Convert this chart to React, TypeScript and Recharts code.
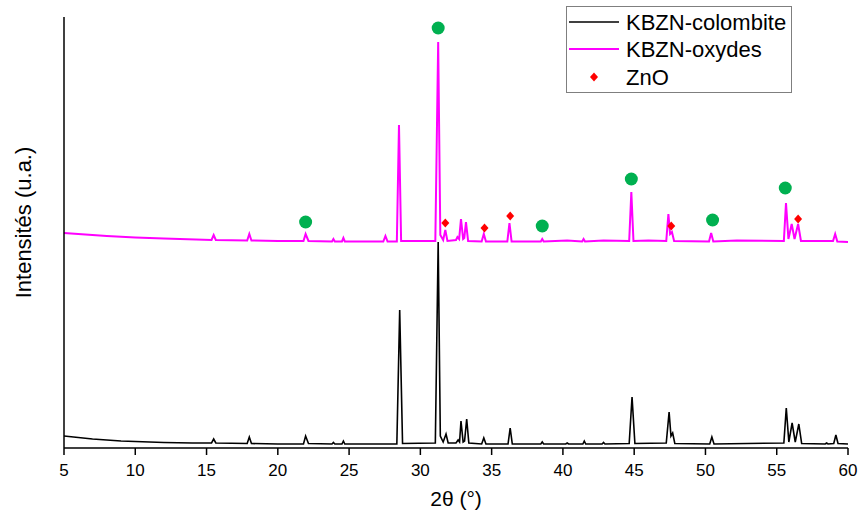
import React from 'react';
import { ComposedChart, Line, Scatter, XAxis, YAxis, Label } from 'recharts';

// [2θ, intensity (a.u.)]
const colombite: [number, number][] = [
  [5, 12], [6, 10.5], [7, 9], [8, 8], [9, 7], [10, 6.5], [12, 5.5], [14, 5],
  [15.35, 5], [15.5, 9], [15.65, 5], [17.85, 4.5], [18, 11], [18.15, 4.5], [20, 4],
  [21.8, 4], [21.95, 12], [22.15, 4.5], [23.8, 4], [23.9, 5.5], [24.0, 4],
  [24.5, 4], [24.6, 7], [24.7, 4], [28.35, 4], [28.55, 138], [28.75, 4.5],
  [31.05, 5], [31.25, 206], [31.4, 12], [31.6, 6], [31.8, 14], [31.95, 5],
  [32.5, 5], [32.65, 8], [32.75, 6], [32.85, 27], [33.0, 6], [33.1, 7], [33.25, 29], [33.4, 5],
  [34.3, 4], [34.45, 10], [34.6, 4], [36.15, 4], [36.3, 20], [36.45, 4],
  [38.45, 4], [38.55, 6], [38.65, 4], [40.2, 4], [40.3, 5], [40.4, 4],
  [41.4, 4], [41.5, 7], [41.6, 4], [42.75, 4], [42.85, 5.5], [42.95, 4],
  [44.65, 4.5], [44.85, 51], [45.05, 4.5], [47.25, 5], [47.45, 36], [47.58, 12], [47.7, 15], [47.85, 4.5],
  [50.3, 4], [50.45, 11], [50.6, 4], [55.5, 5], [55.67, 40], [55.85, 6], [56.08, 25], [56.3, 6],
  [56.55, 24], [56.75, 4.5], [58.4, 4], [58.5, 5], [58.6, 4], [59.0, 4.5], [59.15, 13], [59.3, 4.5], [60, 4],
];

const oxydes: [number, number][] = [
  [5, 215], [6, 214], [7, 213], [8, 212], [10, 210.5], [12, 209.5],
  [15.35, 208], [15.5, 213], [15.65, 208], [17.85, 207.5], [18, 214], [18.15, 207.5], [20, 207],
  [21.8, 207], [21.95, 214], [22.15, 207], [23.8, 206.5], [23.9, 209], [24.0, 206.5],
  [24.5, 206.5], [24.6, 210], [24.7, 206.5], [27.4, 206.5], [27.55, 212], [27.7, 206.5],
  [28.35, 206.5], [28.5, 323], [28.65, 207], [31.05, 207], [31.25, 406], [31.4, 213], [31.6, 208],
  [31.75, 218], [31.9, 207], [32.5, 208], [32.6, 211], [32.72, 209], [32.85, 229], [33.0, 209],
  [33.08, 210], [33.2, 226], [33.35, 207], [34.3, 206.5], [34.45, 214], [34.6, 206.5],
  [36.1, 206.5], [36.25, 225], [36.4, 206.5], [38.45, 206.5], [38.55, 209], [38.65, 206.5],
  [40.3, 207.5], [41.35, 206.5], [41.45, 209], [41.55, 206.5], [42.85, 207.5],
  [44.65, 207], [44.8, 256], [44.95, 207], [46.0, 207.5], [47.25, 207], [47.4, 234], [47.52, 214],
  [47.65, 216], [47.8, 207], [50.25, 206.5], [50.4, 215], [50.55, 206.5], [52.2, 207.5],
  [55.5, 207], [55.65, 245], [55.82, 209], [56.05, 224], [56.25, 209], [56.5, 224], [56.7, 207],
  [58.6, 207], [58.95, 207], [59.1, 214], [59.25, 206.5], [60, 206],
];

const perovskiteMarks: [number, number][] = [
  [21.95, 226], [31.25, 420], [38.55, 222], [44.8, 269], [50.5, 228], [55.6, 260],
];

const znoMarks: [number, number][] = [
  [31.75, 225], [34.5, 220], [36.3, 232], [47.6, 222], [56.5, 229],
];

const xTicks = [5, 10, 15, 20, 25, 30, 35, 40, 45, 50, 55, 60];

const legendItems = ['KBZN-colombite', 'KBZN-oxydes', 'ZnO'];

const FONT = '"Liberation Sans", Arial, sans-serif';

const toRows = (pts: [number, number][]) => pts.map(([x, y]) => ({ x, y }));

const GreenDot = (props: any) => (
  <circle cx={props.cx} cy={props.cy} r={6.5} fill="#00b050" />
);

const RedDiamond = (props: any) => {
  const { cx, cy } = props;
  return (
    <path
      d={`M${cx},${cy - 4.5}L${cx + 4},${cy}L${cx},${cy + 4.5}L${cx - 4},${cy}Z`}
      fill="#ff0000"
    />
  );
};

const LegendBox = () => (
  <svg width={226} height={87} style={{ display: 'block' }}>
    <rect x={0.5} y={0.5} width={225} height={86} fill="#fff" stroke="#7f7f7f" strokeWidth={1} />
    <line x1={3} x2={53} y1={16} y2={16} stroke="#000" strokeWidth={1.5} />
    <line x1={3} x2={53} y1={43} y2={43} stroke="#ff00ff" strokeWidth={2} />
    <path d="M28,66.5L32,71L28,75.5L24,71Z" fill="#ff0000" />
    {legendItems.map((t, i) => (
      <text
        key={t}
        x={60}
        y={16 + i * 27.5}
        dominantBaseline="central"
        fontFamily={FONT}
        fontSize={22}
        fill="#000"
      >
        {t}
      </text>
    ))}
  </svg>
);

export default function App() {
  return (
    <div
      style={{
        position: 'absolute',
        left: 0,
        top: 0,
        width: 858,
        height: 517,
        overflow: 'hidden',
        background: '#fff',
      }}
    >
      <ComposedChart
        width={858}
        height={517}
        margin={{ top: 17, right: 10, bottom: 39, left: 0 }}
        style={{ fontFamily: FONT }}
      >
        <XAxis
          dataKey="x"
          type="number"
          domain={[5, 60]}
          ticks={xTicks}
          allowDataOverflow
          height={30}
          tickSize={7}
          tickMargin={9}
          stroke="#000"
          strokeWidth={1.5}
          tick={{ fill: '#000', fontSize: 17, fontFamily: FONT }}
        >
          <Label value="2θ (°)" position="bottom" offset={13} fill="#000" fontSize={21} fontFamily={FONT} />
        </XAxis>
        <YAxis
          dataKey="y"
          type="number"
          domain={[0, 431]}
          width={64}
          tick={false}
          tickLine={false}
          stroke="#000"
          strokeWidth={1.5}
        >
          <Label
            content={(p: any) => {
              const vb = p.viewBox || {};
              const cx = vb.x + 23;
              const cy = vb.y + vb.height / 2 - 10;
              return (
                <text
                  x={cx}
                  y={cy}
                  transform={`rotate(-90 ${cx} ${cy})`}
                  textAnchor="middle"
                  dominantBaseline="central"
                  fontFamily={FONT}
                  fontSize={22}
                  fill="#000"
                >
                  Intensités (u.a.)
                </text>
              );
            }}
          />
        </YAxis>
        <Line
          data={toRows(colombite)}
          dataKey="y"
          type="linear"
          stroke="#000"
          strokeWidth={1.6}
          dot={false}
          activeDot={false}
          isAnimationActive={false}
        />
        <Line
          data={toRows(oxydes)}
          dataKey="y"
          type="linear"
          stroke="#ff00ff"
          strokeWidth={2}
          dot={false}
          activeDot={false}
          isAnimationActive={false}
        />
        <Scatter data={toRows(perovskiteMarks)} dataKey="y" shape={GreenDot} isAnimationActive={false} />
        <Scatter data={toRows(znoMarks)} dataKey="y" shape={RedDiamond} isAnimationActive={false} />
      </ComposedChart>
      <div style={{ position: 'absolute', left: 566, top: 6 }}>
        <LegendBox />
      </div>
    </div>
  );
}
